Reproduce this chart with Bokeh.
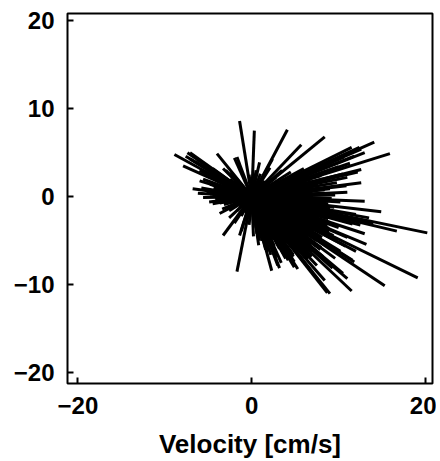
from bokeh.plotting import figure
from bokeh.models import Range1d, FixedTicker, ColumnDataSource
from bokeh.embed import file_html
from bokeh.resources import INLINE

# velocity vectors (u east, v north) in cm/s, each drawn as a stick from the origin
u = [-1.4, 0.3, 4.1, 8.4, 5.7, 14.1, 12.6, 15.9, 11.5, 12.6, 11.0, 13.0, 14.9, 20.2, 16.7,
     13.0, 13.2, 19.1, 15.3, 11.6, 11.5, 9.0, 11.0, 9.3, 5.3, 3.2, 2.3, -1.7, -3.3, -1.2,
     -6.8, -8.9, -7.4, -4.0, -5.6, -4.5, -3.7, 0.9, 2.4, -1.7,
     -7.1, -7.9, -2.0, -5.6, -4.5, -3.7, 2.1, -7.1, -3.3,
     13.0, 12.6, 11.3, 10.5, 9.0, 10.9, 12.4,
     11.8, 8.7, 8.4, 10.5, 4.9, 3.4, 11.6, 12.0, 9.8,
     -1.4, 0.9, 3.0, -1.7,
     8.5, 8.0, 7.5, 8.2, 7.0, 6.5, 6.0, 5.0, 4.5, 3.8, 3.0, 2.5, 2.0, 1.5, 1.0, 0.5,
     7.8, 7.0, 6.0, 5.0, 8.8, 9.0, 8.5, 7.5, 6.8, 5.5, 4.0, 6.2, 5.5, 4.8, 4.0, 3.5,
     3.0, 2.5, 2.0, 6.5, 5.8, 4.5, 3.5, 7.2, 8.6, 9.5, 9.2, 10.0, 9.0, 8.0, 7.0, 6.0,
     4.8, 3.6, 10.2, 9.6, 8.4, 7.6, 6.8, 5.6, 4.5, 3.5, 2.8, 1.5, 1.0, 0.5, -0.3, -0.6,
     -0.3, 0.2, 0.8, 1.6, 2.2,
     -5.2, -4.8, -4.0, -3.5, -3.0, -2.5, -2.0, -1.5, -4.2, -3.0, -2.2, -1.5, -5.8, -6.2,
     -3.8, -3.0, -2.4, -6.0, -5.0, -4.5, -2.6, -2.0, -1.2, -0.8, -1.0,
     -6.5, -5.5, -7.6, -6.0,
     1.0, 2.0, 3.0, 4.0, 5.0, 6.0, 7.0, 6.0, 5.0, 4.0, 3.0, 2.0, 1.0, 0.5, 1.5, 2.5,
     3.5, 4.5, 5.5, 6.5, 7.5, 6.8, 5.2, 4.2, 3.2, 2.2, 8.2, 7.8, 7.2, 6.2, 5.2, 3.2,
     2.6, 1.2, 0.6, 8.7, 9.3, 8.9,
     7.0, 9.0, 10.0, 8.0, 9.8, 10.6, 11.8, 6.0, 8.6, 11.0, 12.2,
     6.5, 7.5, 8.2, 10.2, 9.6, 10.8, 12.0, 7.0, 4.2, 12.5, 11.0, 10.4, 14.0, 13.5,
     -3.4, -2.8, -4.6, -2.0, -1.4, -0.8,
     8.0, 7.4, 6.6, 5.8, 4.8, 3.9, 8.9, 9.4, 8.3, 7.9, 6.9, 5.9, 4.9, 3.9, 2.9, 1.9,
     8.8, 9.0, 8.6, 8.9, 8.4, 8.1, 7.7, 9.2, 8.3, 7.4, 8.7, 8.0, 7.3, 6.4, 5.6, 4.6,
     -4.8, -4.4, -3.8, -3.2, -4.0, -2.6, -4.9, -3.6]
v = [8.6, 7.5, 7.6, 6.8, 5.9, 6.2, 5.4, 4.9, 5.6, 1.6, 0.5, -0.5, -1.7, -4.1, -3.9,
     -4.2, -5.4, -9.2, -10.1, -7.2, -10.7, -11.0, -9.3, -8.1, -8.2, -8.1, -8.4, -8.5, -4.4, -3.9,
     0.9, 4.8, 5.0, 4.9, -0.1, -0.8, -1.9, 3.9, 4.3, 4.5,
     5.0, 3.5, 4.4, 2.0, 0.1, -0.7, 3.3, 4.3, 3.2,
     5.0, 3.1, 3.8, 2.6, 0.9, 1.25, 5.6,
     -7.4, -10.9, -9.5, -8.7, -8.0, -7.5, -3.1, -2.0, -5.0,
     -4.4, -5.0, -7.8, -1.6,
     -1.0, -2.0, -3.0, -3.5, -4.0, -4.5, -5.0, -5.2, -5.5, -5.0, -5.3, -4.8, -5.0, -4.5, -4.0, -3.5,
     -0.5, 0.5, 1.0, 1.2, -2.5, -3.0, -4.2, -5.0, -5.5, -6.0, -6.2, -2.5, -3.5, -2.8, -3.8, -2.5,
     -3.5, -2.0, -3.0, -1.5, -0.8, -1.5, -1.0, -2.2, -1.6, -1.2, -2.2, -3.5, -4.5, -5.8, -6.2, -6.5,
     -6.8, -6.4, -0.6, 0.2, 0.8, 1.5, 2.0, 2.4, 2.8, 3.0, 2.2, 1.8, 2.6, 3.0, 2.5, -2.5,
     -3.2, -4.5, -5.5, -6.0, -6.6,
     0.6, 1.4, 1.8, 0.5, 1.2, 2.0, 0.8, 1.5, -0.3, -0.5, -1.0, -0.2, 1.0, 0.4,
     2.6, 3.0, 2.8, 1.8, 2.6, 3.2, -2.4, -3.0, -2.2, 0.4, 1.0,
     4.0, 3.6, 4.6, 3.0,
     -1.0, -1.5, -2.0, -2.5, -3.0, -3.5, -3.5, -4.0, -4.5, -5.0, -4.5, -4.0, -3.0, -2.0, -2.5, -3.5,
     -4.2, -4.0, -2.2, -2.8, -1.5, -0.8, -1.8, -0.6, -0.2, 0.2, -2.8, -4.5, -5.3, -5.8, -5.9, -5.9,
     -5.6, -5.0, -4.2, -0.3, -1.8, -3.6,
     3.0, 4.0, 3.4, 2.4, 1.6, 4.5, 4.6, 3.2, 3.6, 2.2, 2.8,
     -7.0, -7.8, -6.8, -6.2, -7.0, -5.6, -6.2, -8.6, -7.2, -3.2, -4.6, -2.6, -3.0, -2.4,
     -1.4, 0.2, 2.2, 1.8, -1.2, -1.8,
     -4.9, -5.6, -6.0, -6.4, -6.6, -6.8, -4.0, -4.4, -5.4, -6.0, -6.8, -7.2, -7.4, -7.0, -6.8, -6.2,
     -0.8, -1.4, -2.2, -2.9, -3.9, -4.6, -4.9, -0.2, 0.4, 0.9, -3.3, -4.1, -4.6, -5.2, -5.3, -5.7,
     0.3, 1.0, 1.3, -0.9, 0.6, -1.6, -0.6, 1.9]

x_ticks = [-20, 0, 20]
y_ticks = [-20, -10, 0, 10, 20]

src = ColumnDataSource(dict(x0=[0.0] * len(u), y0=[0.0] * len(v), x1=u, y1=v))

FONT = "Liberation Sans"

p = figure(width=436, height=460, output_backend="svg", toolbar_location=None,
           x_range=Range1d(-21.2, 20.8), y_range=Range1d(-21.2, 20.8),
           frame_width=365, frame_height=370,
           min_border_left=67, min_border_top=13, min_border_right=4, min_border_bottom=77,
           background_fill_color="white", border_fill_color="white")
p.grid.visible = False
p.outline_line_color = "black"
p.outline_line_width = 2

p.segment(x0="x0", y0="y0", x1="x1", y1="y1", source=src, line_color="black", line_width=3)

for ax, ticks in ((p.xaxis[0], x_ticks), (p.yaxis[0], y_ticks)):
    ax.ticker = FixedTicker(ticks=ticks)
    ax.major_tick_in = 6
    ax.major_tick_out = 0
    ax.minor_tick_line_color = None
    ax.axis_line_color = None
    ax.major_tick_line_width = 2
    ax.major_label_text_font = FONT
    ax.major_label_text_font_style = "bold"
    ax.major_label_text_font_size = "24px"
    ax.major_label_text_color = "black"
    ax.major_label_standoff = 13

p.xaxis[0].axis_label = "Velocity [cm/s]"
p.xaxis[0].axis_label_text_font = FONT
p.xaxis[0].axis_label_text_font_style = "bold"
p.xaxis[0].axis_label_text_font_size = "26px"
p.xaxis[0].axis_label_text_color = "black"
p.xaxis[0].axis_label_standoff = 12

out = open("out.html", "w")
out.write(file_html(p, INLINE))
out.close()
